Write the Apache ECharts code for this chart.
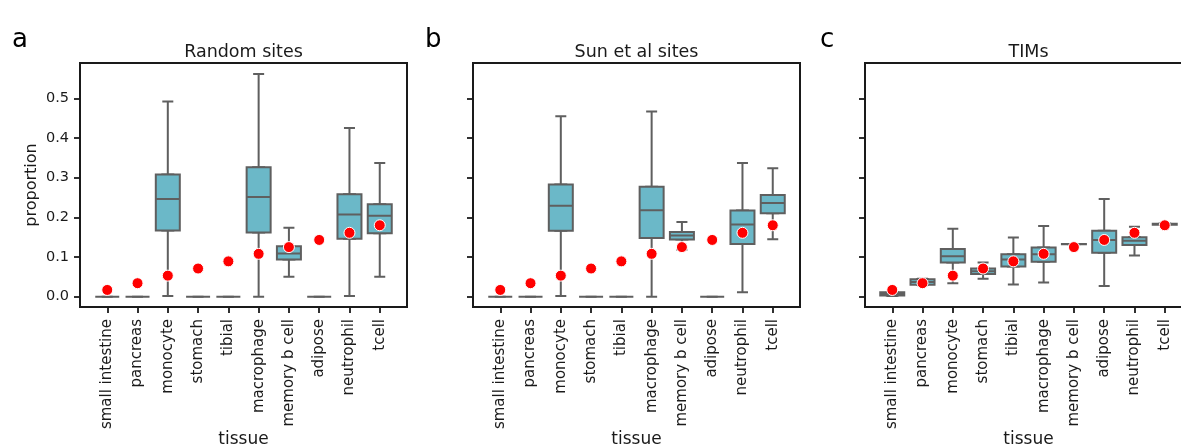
<!DOCTYPE html>
<html>
<head>
<meta charset="utf-8">
<script src="https://cdn.jsdelivr.net/npm/echarts@6/dist/echarts.min.js"></script>
<style>
  html, body { margin: 0; padding: 0; background: #fff; }
  #chart { width: 1181px; height: 447px; }
</style>
</head>
<body>
<div id="chart"></div>
<script>
// categories (same order in all three panels)
const tissues = ['small intestine', 'pancreas', 'monocyte', 'stomach', 'tibial',
  'macrophage', 'memory b cell', 'adipose', 'neutrophil', 'tcell'];

// box stats per tissue: [min, Q1, median, Q3, max]
const randomBoxes = [
  [0, 0, 0, 0, 0], [0, 0, 0, 0, 0],
  [0.002, 0.167, 0.246, 0.308, 0.492],
  [0, 0, 0, 0, 0], [0, 0, 0, 0, 0],
  [0, 0.162, 0.251, 0.326, 0.561],
  [0.050, 0.094, 0.109, 0.127, 0.174],
  [0, 0, 0, 0, 0],
  [0.002, 0.146, 0.207, 0.258, 0.425],
  [0.050, 0.160, 0.204, 0.233, 0.337]
];
const sunBoxes = [
  [0, 0, 0, 0, 0], [0, 0, 0, 0, 0],
  [0.002, 0.166, 0.229, 0.283, 0.455],
  [0, 0, 0, 0, 0], [0, 0, 0, 0, 0],
  [0, 0.148, 0.218, 0.277, 0.467],
  [0.118, 0.144, 0.154, 0.163, 0.188],
  [0, 0, 0, 0, 0],
  [0.011, 0.133, 0.182, 0.217, 0.337],
  [0.145, 0.210, 0.236, 0.256, 0.324]
];
const timBoxes = [
  [0.002, 0.003, 0.007, 0.011, 0.012],
  [0.029, 0.030, 0.037, 0.044, 0.045],
  [0.034, 0.086, 0.102, 0.120, 0.171],
  [0.045, 0.057, 0.064, 0.071, 0.086],
  [0.031, 0.076, 0.094, 0.107, 0.149],
  [0.036, 0.088, 0.107, 0.124, 0.178],
  [0.132, 0.132, 0.132, 0.133, 0.133],
  [0.027, 0.111, 0.143, 0.166, 0.246],
  [0.104, 0.130, 0.141, 0.150, 0.176],
  [0.180, 0.181, 0.183, 0.184, 0.185]
];

// red dots (same in every panel)
const meanValues = [0.017, 0.034, 0.053, 0.071, 0.089, 0.108, 0.125, 0.143, 0.161, 0.180];

// y tick labels
const yTicks = [0, 0.1, 0.2, 0.3, 0.4, 0.5];

const panels = [
  { letter: 'a', title: 'Random sites', boxes: randomBoxes, left: 80, letterX: 12, showY: true },
  { letter: 'b', title: 'Sun et al sites', boxes: sunBoxes, left: 473, letterX: 425, showY: false },
  { letter: 'c', title: 'TIMs', boxes: timBoxes, left: 865, letterX: 820, showY: false }
];

const FONT = 'DejaVu Sans';
const TEXT = '#1a1a1a';
const BOX_FILL = '#6bb8c8';
const BOX_LINE = '#5f5f5f';
const GRID_W = 327;
const tickIdx = tissues.map((t, i) => i);

const grids = [], xAxes = [], yAxes = [], series = [], titles = [], graphics = [];

panels.forEach((p, k) => {
  grids.push({
    left: p.left, top: 63, width: GRID_W, height: 244,
    outerBoundsMode: 'none', containLabel: false,
    show: true, borderColor: TEXT, borderWidth: 2, backgroundColor: 'transparent'
  });

  // visible x axis (ticks + labels)
  xAxes.push({
    type: 'value', gridIndex: k, min: -0.9, max: 9.9,
    axisLine: { show: false, onZero: false },
    splitLine: { show: false },
    axisTick: { show: true, customValues: tickIdx, length: 6, lineStyle: { color: TEXT, width: 1.8 } },
    axisLabel: {
      show: true, customValues: tickIdx, rotate: 90, margin: 12,
      fontFamily: FONT, fontSize: 15, color: TEXT,
      formatter: v => tissues[Math.round(v)]
    },
    name: 'tissue', nameLocation: 'middle', nameGap: 124, nameMoveOverlap: false,
    nameTextStyle: { fontFamily: FONT, fontSize: 17, color: TEXT }
  });
  // hidden twin axis, used for the narrow whisker caps
  xAxes.push({
    type: 'value', gridIndex: k, min: -0.9, max: 9.9, show: false,
    axisLine: { onZero: false },
    splitLine: { show: false }
  });

  yAxes.push({
    type: 'value', gridIndex: k, min: -0.026, max: 0.589,
    axisLine: { show: false, onZero: false },
    splitLine: { show: false },
    axisTick: { show: true, customValues: yTicks, length: 6, lineStyle: { color: TEXT, width: 1.8 } },
    axisLabel: {
      show: p.showY, customValues: yTicks, margin: 11,
      fontFamily: FONT, fontSize: 14.5, color: TEXT,
      formatter: v => v.toFixed(1)
    },
    name: p.showY ? 'proportion' : '', nameLocation: 'middle', nameGap: 40,
    nameTextStyle: { fontFamily: FONT, fontSize: 16, color: TEXT }
  });

  // whiskers with short caps (full range, narrow box hidden under the wide one)
  series.push({
    type: 'boxplot', xAxisIndex: 2 * k + 1, yAxisIndex: k,
    boxWidth: [11, 11], z: 2,
    itemStyle: { color: BOX_FILL, borderColor: BOX_LINE, borderWidth: 2 },
    data: p.boxes.map((b, i) => [i].concat(b))
  });
  // boxes
  series.push({
    type: 'boxplot', xAxisIndex: 2 * k, yAxisIndex: k,
    boxWidth: [24, 24], z: 3,
    itemStyle: { color: BOX_FILL, borderColor: BOX_LINE, borderWidth: 2 },
    data: p.boxes.map((b, i) => [i, b[1], b[1], b[2], b[3], b[3]])
  });
  // red dots
  series.push({
    type: 'scatter', xAxisIndex: 2 * k, yAxisIndex: k, z: 5,
    symbolSize: 11,
    itemStyle: { color: '#ff0000', borderColor: '#ffffff', borderWidth: 1, opacity: 1 },
    data: meanValues.map((v, i) => [i, v])
  });

  titles.push({
    text: p.title, left: p.left + GRID_W / 2, top: 43, textAlign: 'center', padding: 0,
    textStyle: { fontFamily: FONT, fontSize: 17.5, fontWeight: 'normal', color: TEXT }
  });

  graphics.push({
    type: 'text', left: p.letterX, top: 27,
    style: { text: p.letter, font: '26px "DejaVu Sans"', fill: '#000' }
  });
});

const chart = echarts.init(document.getElementById('chart'), null, { renderer: 'canvas' });
chart.setOption({
  animation: false,
  backgroundColor: '#ffffff',
  title: titles,
  grid: grids,
  xAxis: xAxes,
  yAxis: yAxes,
  series: series,
  graphic: graphics,
  tooltip: { show: false }
});
</script>
</body>
</html>
